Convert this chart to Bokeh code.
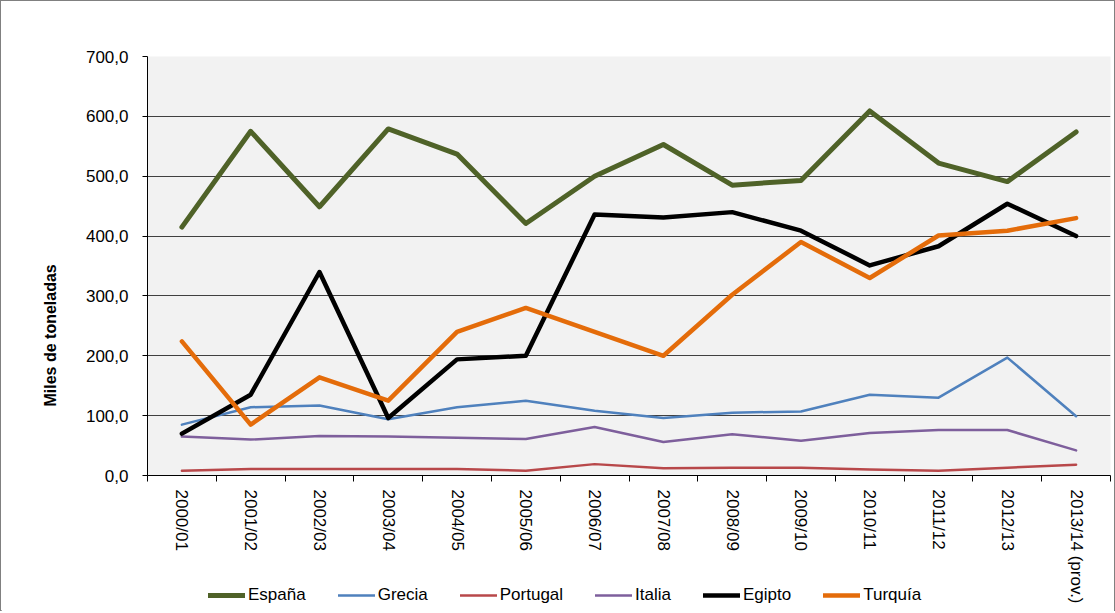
import math
from bokeh.plotting import figure
from bokeh.layouts import column
from bokeh.models import (Range1d, LinearAxis, FixedTicker, Legend, LegendItem, Title,
                          CustomJSTickFormatter)
from bokeh.embed import file_html
from bokeh.resources import INLINE

campaigns = ["2000/01", "2001/02", "2002/03", "2003/04", "2004/05", "2005/06",
             "2006/07", "2007/08", "2008/09", "2009/10", "2010/11", "2011/12",
             "2012/13", "2013/14 (prov.)"]

espana   = [415, 575, 449, 579, 537, 421, 500, 553, 485, 493, 609, 522, 491, 574]
grecia   = [85, 114, 117, 94, 114, 125, 108, 96, 105, 107, 135, 130, 197, 99]
portugal = [8, 11, 11, 11, 11, 8, 19, 12, 13, 13, 10, 8, 13, 18]
italia   = [65, 60, 66, 65, 63, 61, 81, 56, 69, 58, 71, 76, 76, 42]
egipto   = [70, 135, 340, 96, 194, 200, 436, 431, 440, 409, 351, 383, 454, 400]
turquia  = [224, 85, 164, 125, 240, 280, 240, 200, 302, 390, 330, 401, 409, 430]

series_names = ["España", "Grecia", "Portugal", "Italia", "Egipto", "Turquía"]
series_values = [espana, grecia, portugal, italia, egipto, turquia]
series_colors = ["#4F6228", "#4F81BD", "#B8484A", "#7E5F9C", "#000000", "#E46C0A"]
series_widths = [5, 2.5, 2.5, 2.5, 4.5, 4.5]

y_ticks = [0, 100, 200, 300, 400, 500, 600, 700]
y_tick_labels = ["0,0", "100,0", "200,0", "300,0", "400,0", "500,0", "600,0", "700,0"]

FONT = "Liberation Sans"
n = len(campaigns)
x_centers = [i + 0.5 for i in range(n)]   # category slots on the numeric scale
x_edges = list(range(n + 1))

p = figure(width=1113, height=611,
           x_range=Range1d(0, n), y_range=Range1d(0, 700),
           output_backend="svg", toolbar_location=None,
           min_border_left=146, min_border_right=4,
           min_border_top=55, min_border_bottom=137)
p.background_fill_color = "#F2F2F2"
p.border_fill_color = "white"
p.outline_line_color = None

# y axis
yax = p.yaxis[0]
yax.ticker = FixedTicker(ticks=y_ticks)
yax.major_label_overrides = {t: l for t, l in zip(y_ticks, y_tick_labels)}
yax.major_tick_out = 5
yax.major_tick_in = 0
yax.minor_tick_line_color = None
yax.axis_line_color = "black"
yax.major_tick_line_color = "black"
yax.major_label_standoff = 14
yax.major_label_text_font = FONT
yax.major_label_text_font_size = "17px"
yax.major_label_text_color = "black"

p.ygrid.grid_line_color = "#404040"
p.ygrid.grid_line_width = 1
p.xgrid.visible = False

# x axis: tick marks at category boundaries
xax = p.xaxis[0]
xax.ticker = FixedTicker(ticks=x_edges)
xax.major_tick_out = 6
xax.major_tick_in = 0
xax.minor_tick_line_color = None
xax.axis_line_color = "black"
xax.major_tick_line_color = "black"
xax.major_label_text_font_size = "0px"
xax.major_label_text_color = None
xax.major_label_standoff = 0

# x axis: category labels at slot centres
label_axis = LinearAxis(ticker=FixedTicker(ticks=x_centers),
                        formatter=CustomJSTickFormatter(args=dict(labels=campaigns),
                                                        code="return labels[Math.floor(tick)];"),
                        major_tick_line_color=None, minor_tick_line_color=None,
                        axis_line_color=None,
                        major_label_orientation=-math.pi / 2,
                        major_label_text_font=FONT,
                        major_label_text_font_size="17px",
                        major_label_text_color="black",
                        major_label_standoff=2)
p.add_layout(label_axis, "below")

for name, vals, col, w in zip(series_names, series_values, series_colors, series_widths):
    p.line(x=x_centers, y=vals, line_color=col, line_width=w,
           line_join="round", line_cap="round")

ytitle = Title(text="Miles de toneladas", align="left", offset=69, standoff=47,
               text_font=FONT, text_font_size="16px", text_font_style="bold",
               text_color="black")
p.add_layout(ytitle, "left")

# legend strip, overlapping the bottom of the chart (transparent)
lg = figure(width=1113, height=24, x_range=Range1d(0, 1), y_range=Range1d(0, 1),
            output_backend="svg", toolbar_location=None,
            x_axis_location=None, y_axis_location=None,
            min_border_left=0, min_border_right=0, min_border_top=0, min_border_bottom=0,
            margin=(-26, 0, 0, 0))
lg.grid.visible = False
lg.outline_line_color = None
lg.background_fill_alpha = 0
lg.border_fill_alpha = 0
keys = []
for name, col, w in zip(series_names, series_colors, series_widths):
    # legend key only: a line with no drawable point
    r = lg.line(x=[math.nan], y=[math.nan], line_color=col, line_width=w, line_cap="round")
    keys.append(LegendItem(label=name, renderers=[r]))

legend = Legend(items=keys, orientation="horizontal", location=(61, 5),
                glyph_width=37, glyph_height=18, label_standoff=3, spacing=32,
                padding=0, margin=0, border_line_color=None,
                background_fill_alpha=0,
                label_text_font=FONT, label_text_font_size="17px",
                label_text_color="black")
lg.add_layout(legend, "center")

page = column(p, lg, spacing=0)
page.styles = {"border": "1px solid #808080"}

open("out.html", "w").write(file_html(page, INLINE))
